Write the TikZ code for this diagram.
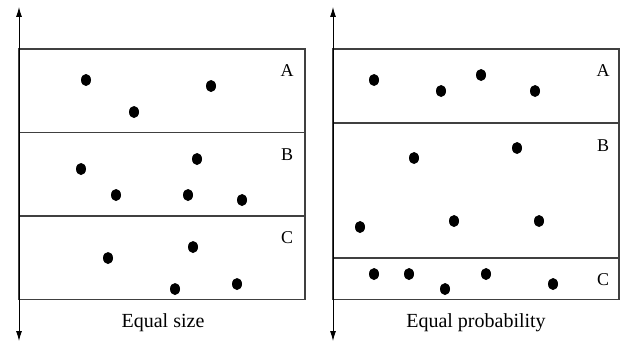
\documentclass[tikz,border=0pt]{standalone}
\usepackage{fontspec}
\setmainfont{Liberation Serif}
\usetikzlibrary{arrows.meta,shapes.geometric}
\begin{document}
\begin{tikzpicture}[x=1pt,y=-1pt,
  dot/.style={ellipse,fill=black,minimum width=10pt,minimum height=12pt,inner sep=0pt},
  band/.style={draw=black!75,line width=1.1pt},
  axis/.style={draw=black,line width=0.9pt,{Latex[length=10pt,width=6pt]}-{Latex[length=10pt,width=6pt]}},
  lab/.style={anchor=base,font=\fontsize{18}{20}\selectfont,inner sep=0pt},
  captext/.style={anchor=base,font=\fontsize{20}{22}\selectfont,inner sep=0pt}]
\useasboundingbox (0,0) rectangle (620,345);
% left panel
\draw[band] (19,49) rectangle (305,299.5);
\draw[band] (19,132.5) -- (305,132.5);
\draw[band] (19,216) -- (305,216);
\coordinate (lt) at (19,7);
\coordinate (lb) at (19,341);
\draw[axis] (lb) -- (lt);
\node[lab] (lA) at (287,76) {A};
\node[lab] (lB) at (287,160) {B};
\node[lab] (lC) at (287,243) {C};
\node[dot] (l1) at (86,80) {};
\node[dot] (l2) at (211,86) {};
\node[dot] (l3) at (134,112) {};
\node[dot] (l4) at (81,169) {};
\node[dot] (l5) at (197,159) {};
\node[dot] (l6) at (116,195) {};
\node[dot] (l7) at (188,195) {};
\node[dot] (l8) at (242,200) {};
\node[dot] (l9) at (108,258) {};
\node[dot] (l10) at (193,247) {};
\node[dot] (l11) at (175,289) {};
\node[dot] (l12) at (237,284) {};
\node[captext] (lcap) at (163,327) {Equal size};
% right panel
\draw[band] (333,49) rectangle (619,299.5);
\draw[band] (333,123) -- (619,123);
\draw[band] (333,258) -- (619,258);
\coordinate (rt) at (333,7);
\coordinate (rb) at (333,341);
\draw[axis] (rb) -- (rt);
\node[lab] (rA) at (603,76) {A};
\node[lab] (rB) at (603,151) {B};
\node[lab] (rC) at (603,285) {C};
\node[dot] (r1) at (374,80) {};
\node[dot] (r2) at (441,91) {};
\node[dot] (r3) at (481,75) {};
\node[dot] (r4) at (535,91) {};
\node[dot] (r5) at (414,158) {};
\node[dot] (r6) at (517,148) {};
\node[dot] (r7) at (360,227) {};
\node[dot] (r8) at (454,221) {};
\node[dot] (r9) at (539,221) {};
\node[dot] (r10) at (374,274) {};
\node[dot] (r11) at (409,274) {};
\node[dot] (r12) at (445,289) {};
\node[dot] (r13) at (486,274) {};
\node[dot] (r14) at (553,284) {};
\node[captext] (rcap) at (476,327) {Equal probability};
\end{tikzpicture}
\end{document}
